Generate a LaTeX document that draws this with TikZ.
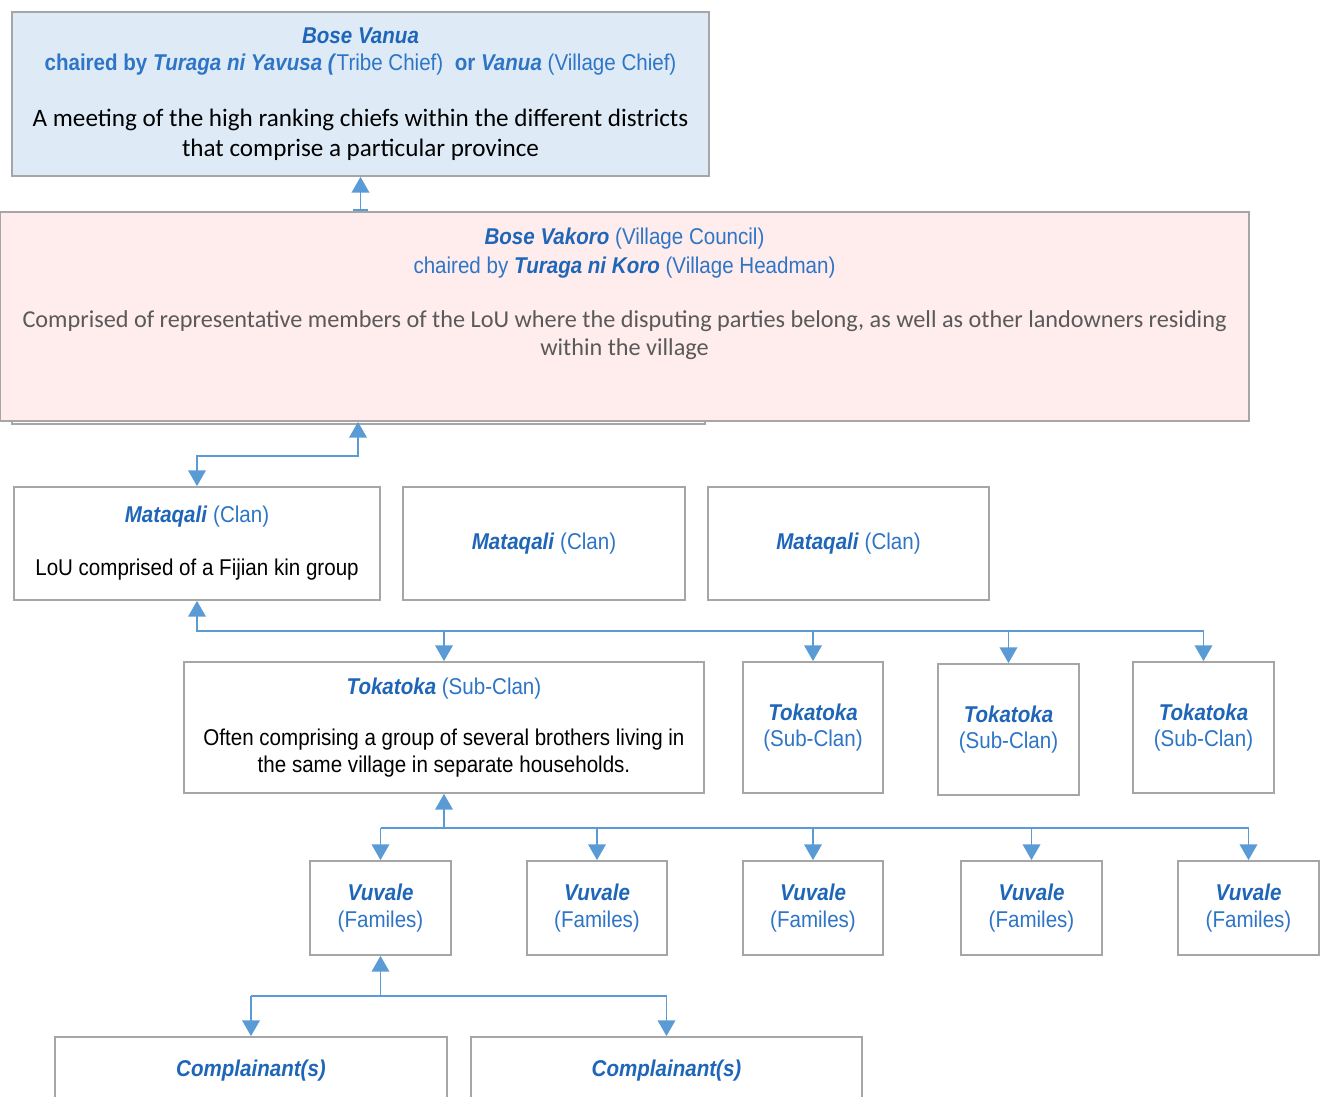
\documentclass[tikz,border=0pt]{standalone}
\usepackage{fontspec}
\setmainfont{Liberation Sans}
\newfontfamily\narrowfont{Liberation Sans}[FakeStretch=0.9]
\newfontfamily\calfont{Carlito}
\usetikzlibrary{arrows.meta}
\definecolor{linkblue}{HTML}{5B9BD5}
\definecolor{boxgray}{HTML}{A6A6A6}
\definecolor{bluefill}{HTML}{DEEBF7}
\definecolor{pinkfill}{HTML}{FFECEC}
\definecolor{textblue}{HTML}{2E75C6}
\definecolor{keyblue}{HTML}{1F66B8}
\definecolor{graytext}{HTML}{595959}
\newcommand{\kw}[1]{\textcolor{keyblue}{\textbf{\textit{#1}}}}
\newcommand{\calbody}{\calfont\fontsize{14.3}{16}\selectfont}
\newcommand{\gillbody}{\calfont\fontsize{13.8}{16}\selectfont}
\tikzset{
  box/.style={draw=boxgray, line width=1pt, fill=white, align=center, inner sep=0pt,
    text=textblue, font=\narrowfont\fontsize{13}{15.2}\selectfont},
  link/.style={draw=linkblue, line width=1.1pt, >={Triangle[width=10pt,length=9pt]}}
}
\begin{document}
\begin{tikzpicture}[x=0.02cm, y=-0.02cm]
\useasboundingbox (0,0) rectangle (1325,1097);
\node[box, fill=bluefill, minimum width=13.94cm, minimum height=3.28cm] (bv) at (360.5,94)
  {\kw{Bose Vanua}\\
   \textbf{chaired by \textit{Turaga ni Yavusa (}}Tribe Chief)\ \ \textbf{or \textit{Vanua}} (Village Chief)\\[17pt]
   \calbody\color{black}A meeting of the high ranking chiefs within the different districts\\[1.5pt]
   \calbody\color{black}that comprise a particular province};
\draw[draw=boxgray, line width=1pt] (12,212) rectangle (705,424);
\node[box, fill=pinkfill, minimum width=24.98cm, minimum height=4.18cm] (vk) at (624.5,316.5) {};
\node[anchor=north, align=center, inner sep=0pt, text=textblue, font=\narrowfont\fontsize{13}{16}\selectfont] (vktxt) at (624.5,228)
  {\kw{Bose Vakoro} (Village Council)\\
   chaired by \kw{Turaga ni Koro} (Village Headman)\\[15pt]
   \gillbody\color{graytext}Comprised of representative members of the LoU where the disputing parties belong, as well as other landowners residing\\
   \gillbody\color{graytext}within the village};
\node[box, minimum width=7.32cm, minimum height=2.26cm] (mq1) at (197,543.5)
  {\kw{Mataqali} (Clan)\\[15pt] \color{black}LoU comprised of a Fijian kin group};
\node[box, minimum width=5.64cm, minimum height=2.26cm] (mq2) at (544,543.5) {\kw{Mataqali} (Clan)};
\node[box, minimum width=5.62cm, minimum height=2.26cm] (mq3) at (848.5,543.5) {\kw{Mataqali} (Clan)};
\node[box, minimum width=10.4cm, minimum height=2.62cm] (tk1) at (444,727.5)
  {\kw{Tokatoka} (Sub-Clan)\\[14pt] \color{black}Often comprising a group of several brothers living in\\ \color{black}the same village in separate households.};
\node[box, minimum width=2.8cm, minimum height=2.62cm] (tk2) at (813,727.5) {\kw{Tokatoka}\\(Sub-Clan)};
\node[box, minimum width=2.82cm, minimum height=2.62cm] (tk3) at (1008.5,729.5) {\kw{Tokatoka}\\(Sub-Clan)};
\node[box, minimum width=2.82cm, minimum height=2.62cm] (tk4) at (1203.5,727.5) {\kw{Tokatoka}\\(Sub-Clan)};
\node[box, minimum width=2.82cm, minimum height=1.88cm] (vv1) at (380.5,908) {\kw{Vuvale}\\(Familes)};
\node[box, minimum width=2.8cm, minimum height=1.88cm] (vv2) at (597,908) {\kw{Vuvale}\\(Familes)};
\node[box, minimum width=2.8cm, minimum height=1.88cm] (vv3) at (813,908) {\kw{Vuvale}\\(Familes)};
\node[box, minimum width=2.82cm, minimum height=1.88cm] (vv4) at (1031.5,908) {\kw{Vuvale}\\(Familes)};
\node[box, minimum width=2.82cm, minimum height=1.88cm] (vv5) at (1248.5,908) {\kw{Vuvale}\\(Familes)};
\node[box, minimum width=7.84cm, minimum height=1.36cm] (cp1) at (251,1071) {\kw{Complainant(s)}};
\node[box, minimum width=7.82cm, minimum height=1.36cm] (cp2) at (666.5,1071) {\kw{Complainant(s)}};
\coordinate (j1) at (358,456);
\coordinate (bus1) at (0,631);
\coordinate (bus2) at (0,828);
\coordinate (bus3) at (0,996);
\draw[link, {Bar[width=9pt]}->] (bv.south |- vk.north) -- (bv.south);
\draw[link, <->] (mq1.north) |- (j1) -- (j1 |- vk.south);
\draw[link, <->] (mq1.south) -- (mq1.south |- bus1) -| (tk4.north);
\draw[link, ->] (tk1.north |- bus1) -- (tk1.north);
\draw[link, ->] (tk2.north |- bus1) -- (tk2.north);
\draw[link, ->] (tk3.north |- bus1) -- (tk3.north);
\draw[link, <-] (tk1.south) -- (tk1.south |- bus2);
\draw[link, ->] (vv1.north |- bus2) -| (vv5.north);
\draw[link, ->] (vv1.north |- bus2) -- (vv1.north);
\draw[link, ->] (vv2.north |- bus2) -- (vv2.north);
\draw[link, ->] (vv3.north |- bus2) -- (vv3.north);
\draw[link, ->] (vv4.north |- bus2) -- (vv4.north);
\draw[link, <-] (vv1.south) -- (vv1.south |- bus3);
\draw[link, ->] (cp1.north |- bus3) -| (cp2.north);
\draw[link, ->] (cp1.north |- bus3) -- (cp1.north);
\end{tikzpicture}
\end{document}
